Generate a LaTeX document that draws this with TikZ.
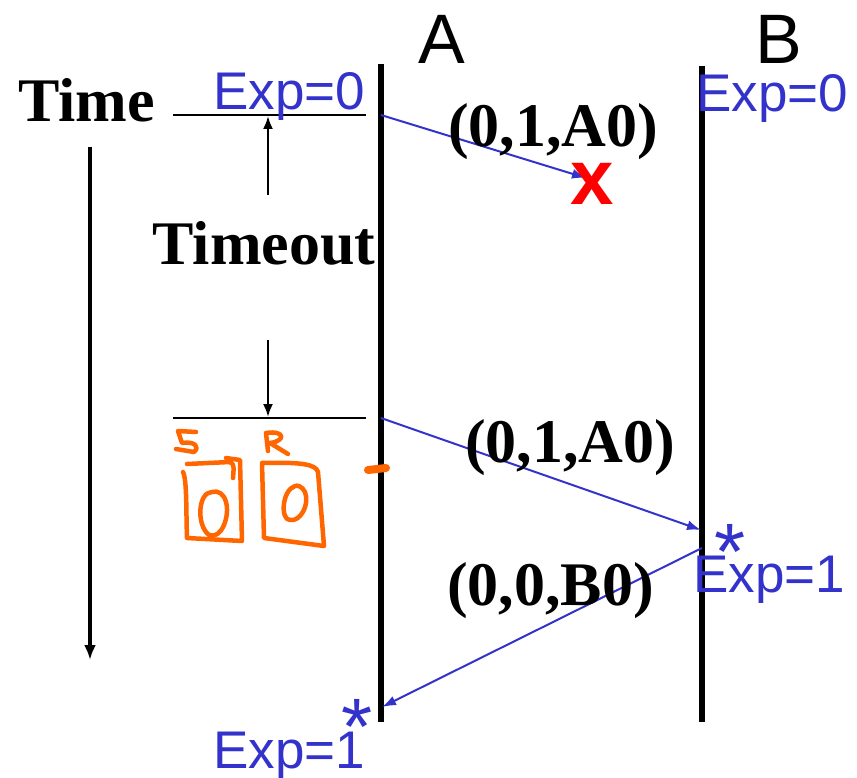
\documentclass[tikz,border=0pt]{standalone}
\usepackage{fontspec}
\setmainfont{Liberation Serif}
\setsansfont{Liberation Sans}
\usetikzlibrary{arrows.meta}
\definecolor{expblue}{RGB}{51,51,204}
\definecolor{sketch}{RGB}{255,102,0}
\definecolor{xred}{RGB}{255,0,0}
\tikzset{
  lifeline/.style={line width=5.5pt},
  msg/.style={draw=expblue, line width=2pt, -{Latex[length=14pt,width=10pt]}},
  blkarrow/.style={line width=2.2pt, -{Latex[length=13pt,width=10pt]}},
  timearrow/.style={line width=3.2pt, -{Latex[length=15pt,width=12pt]}},
  serb/.style={font=\fontsize{62}{62}\selectfont\bfseries, inner sep=0pt},
  expl/.style={font=\sffamily\fontsize{53}{53}\selectfont, text=expblue, inner sep=0pt},
  big/.style={font=\sffamily\fontsize{70}{70}\selectfont, inner sep=0pt},
  star/.style={font=\sffamily\fontsize{80}{80}\selectfont, text=expblue, inner sep=0pt},
  pen/.style={draw=sketch, line width=4.5pt, line cap=round, line join=round}
}
\begin{document}
\begin{tikzpicture}[x=1pt,y=-1pt]
\useasboundingbox (0,0) rectangle (857,778);
% lifelines
\coordinate (At) at (381,64);
\coordinate (Ab) at (381,722);
\coordinate (Bt) at (702,66);
\coordinate (Bb) at (702,722);
\draw[lifeline] (At) -- (Ab);
\draw[lifeline] (Bt) -- (Bb);
\node[big, anchor=base] (A) at (442,64) {A};
\node[big, anchor=base] (B) at (779,64) {B};
% time
\node[serb, anchor=base west] (time) at (18,122) {Time};
\coordinate (t1) at (90,147);
\coordinate (t2) at (90,660);
\draw[timearrow] (t1) -- (t2);
% horizontal marks
\coordinate (h1a) at (173,115);
\coordinate (h1b) at (366,115);
\coordinate (h2a) at (173,418);
\coordinate (h2b) at (366,418);
\draw[line width=1.5pt] (h1a) -- (h1b);
\draw[line width=1.5pt] (h2a) -- (h2b);
\coordinate (u1) at (268,195);
\coordinate (u2) at (268,116);
\coordinate (d1) at (268,340);
\coordinate (d2) at (268,417);
\draw[blkarrow] (u1) -- (u2);
\draw[blkarrow] (d1) -- (d2);
\node[serb, anchor=base] (to) at (264,265) {Timeout};
% Exp labels
\node[expl, anchor=base west] (e0a) at (213,110) {Exp=0};
\node[expl, anchor=base west] (e0b) at (696,112) {Exp=0};
\node[expl, anchor=base west] (e1b) at (693,592) {Exp=1};
\node[expl, anchor=base west] (e1a) at (213,768) {Exp=1};
\node[star] (s1) at (730,552) {*};
\node[star] (s2) at (357,727) {*};
% messages
\coordinate (m1s) at (381,115);
\coordinate (m1e) at (586,178);
\coordinate (m2s) at (381,418);
\coordinate (m2e) at (701,530);
\coordinate (m3s) at (702,548);
\coordinate (m3e) at (382,707);
\draw[msg] (m1s) -- (m1e);
\draw[msg] (m2s) -- (m2e);
\draw[msg] (m3s) -- (m3e);
\node[serb, anchor=base west] (l1) at (448,147) {(0,1,A0)};
\node[serb, anchor=base west] (l2) at (465,462) {(0,1,A0)};
\node[serb, anchor=base west] (l3) at (447,605) {(0,0,B0)};
\node[font=\sffamily\bfseries\fontsize{78}{78}\selectfont, text=xred, inner sep=0pt, anchor=base] (x) at (592,205) {x};
% orange sketch
\draw[pen, line width=8pt] (368,470) -- (386,468);
% S
\draw[pen] (196,432) -- (178,431) -- (182,443) .. controls (195,441) and (200,447) .. (194,452) -- (176,449);
% R
\draw[pen] (268,451) -- (266,433) .. controls (285,430) and (286,441) .. (270,443) -- (288,454);
% left box
\draw[pen] (187,464) -- (230,462);
\draw[pen] (230,462) .. controls (234,464) and (234,466) .. (233,478);
\draw[pen] (183,472) .. controls (187,480) and (186,510) .. (187,538) -- (242,541) -- (240,460) -- (226,458);
\draw[pen] (212,492) .. controls (198,492) and (196,525) .. (209,535) .. controls (222,540) and (230,515) .. (226,502) .. controls (224,494) and (218,490) .. (212,492);
% right box
\draw[pen] (262,463) -- (264,538) -- (324,546) -- (318,472) .. controls (316,464) and (300,462) .. (262,463);
\draw[pen] (295,486) .. controls (282,490) and (280,520) .. (290,520) .. controls (300,522) and (310,505) .. (305,492) .. controls (302,486) and (297,485) .. (295,486);
\end{tikzpicture}
\end{document}
